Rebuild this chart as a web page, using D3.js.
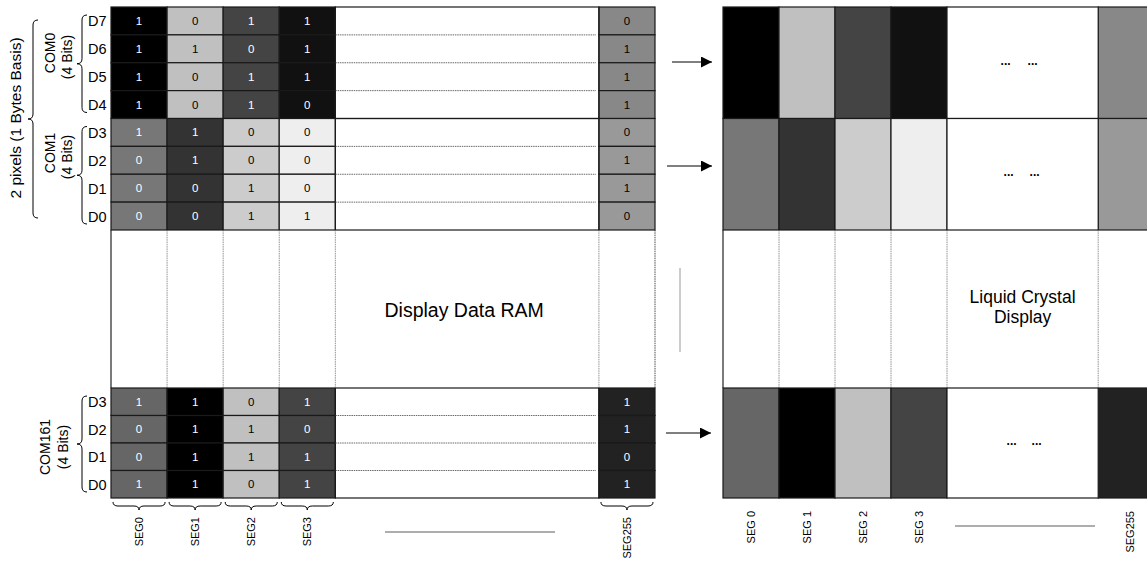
<!DOCTYPE html>
<html>
<head>
<meta charset="utf-8">
<script src="https://cdn.jsdelivr.net/npm/d3@7"></script>
<style>
  body { margin: 0; background: #fff; }
  svg { font-family: "Liberation Sans", Arial, sans-serif; }
</style>
</head>
<body>
<div class="figure"></div>
<script>
const segs = ["SEG0", "SEG1", "SEG2", "SEG3", "SEG255"]
const lcdSegs = ["SEG 0", "SEG 1", "SEG 2", "SEG 3", "SEG255"]
const coms = ["COM0", "COM1", "COM161"]
const bitNames = [["D7", "D6", "D5", "D4"], ["D3", "D2", "D1", "D0"], ["D3", "D2", "D1", "D0"]]
// bits[com][seg] from top row to bottom row
const bits = [
  [[1,1,1,1], [0,1,0,0], [1,0,1,1], [1,1,1,0], [0,1,1,1]],
  [[1,0,0,0], [1,1,0,0], [0,0,1,1], [0,0,0,1], [0,1,1,0]],
  [[1,0,0,1], [1,1,1,1], [0,1,1,0], [1,0,1,1], [1,1,0,1]]
]
// grey level of each pixel (com x seg)
const grays = [
  ["#000000", "#c0c0c0", "#444444", "#111111", "#888888"],
  ["#777777", "#333333", "#cccccc", "#eeeeee", "#999999"],
  ["#666666", "#000000", "#c0c0c0", "#444444", "#222222"]
]

const width = 1147, height = 566

const svg = d3.select(".figure").append("svg")
    .attr("width", width)
    .attr("height", height)

// column positions in "cell units": 4 seg columns, a wide gap, SEG255
const colStart = [0, 1, 2, 3, 8.7]
const ramX = d3.scaleLinear().domain([0, 9.7]).range([111, 655])
const lcdX = d3.scaleLinear().domain([0, 1]).range([723, 779])
const lcdCol = [0, 1, 2, 3, 6.7]   // lcd gap a bit narrower

// rows: COM0 + COM1 stacked on top, COM161 lower down
const topY = d3.scaleLinear().domain([0, 8]).range([7, 230])
const botY = d3.scaleLinear().domain([0, 4]).range([388, 498])
function rowY(c, r) { return c < 2 ? topY(c * 4 + r) : botY(r) }
function comTop(c) { return rowY(c, 0) }
function comBot(c) { return c < 2 ? topY(c * 4 + 4) : botY(4) }

function isDark(col) { return d3.hsl(col).l < 0.5 }

// ---------- brace helpers ----------
function vBrace(x, y1, y2, w) {
  const ym = (y1 + y2) / 2, r = 5
  return `M${x + w},${y1} Q${x},${y1} ${x},${y1 + r} L${x},${ym - r}
          Q${x},${ym} ${x - w},${ym} Q${x},${ym} ${x},${ym + r}
          L${x},${y2 - r} Q${x},${y2} ${x + w},${y2}`
}
function hBrace(x1, x2, y, h) {
  const xm = (x1 + x2) / 2, r = 5
  return `M${x1},${y - h} Q${x1},${y} ${x1 + r},${y} L${xm - r},${y}
          Q${xm},${y} ${xm},${y + h} Q${xm},${y} ${xm + r},${y}
          L${x2 - r},${y} Q${x2},${y} ${x2},${y - h}`
}

// ---------- RAM cells ----------
const ram = svg.append("g")

coms.forEach((com, c) => {
  segs.forEach((seg, s) => {
    const x0 = ramX(colStart[s]), x1 = ramX(colStart[s] + 1)
    bits[c][s].forEach((b, r) => {
      const y0 = rowY(c, r), y1 = rowY(c, r + 1)
      ram.append("rect")
          .attr("x", x0).attr("y", y0)
          .attr("width", x1 - x0).attr("height", y1 - y0)
          .attr("fill", grays[c][s])
          .attr("stroke", "#1a1a1a")
          .attr("stroke-width", 1.2)
      ram.append("text")
          .attr("x", (x0 + x1) / 2)
          .attr("y", (y0 + y1) / 2 + 4)
          .attr("text-anchor", "middle")
          .attr("font-size", 11.5)
          .attr("fill", isDark(grays[c][s]) ? "#fff" : "#000")
          .text(b)
    })
  })
  // the wide empty column with its dotted row lines
  const gx0 = ramX(4), gx1 = ramX(8.7)
  ram.append("rect")
      .attr("x", gx0).attr("y", comTop(c))
      .attr("width", gx1 - gx0).attr("height", comBot(c) - comTop(c))
      .attr("fill", "none").attr("stroke", "#1a1a1a").attr("stroke-width", 1.2)
  for (let r = 1; r < 4; r++) {
    ram.append("line")
        .attr("x1", gx0).attr("x2", gx1 - 3)
        .attr("y1", rowY(c, r)).attr("y2", rowY(c, r))
        .attr("stroke", "#444").attr("stroke-width", 0.8)
        .attr("stroke-dasharray", "1.5,0.8")
  }
  // bit names
  bitNames[c].forEach((d, r) => {
    ram.append("text")
        .attr("x", 88)
        .attr("y", (rowY(c, r) + rowY(c, r + 1)) / 2 + 5.5)
        .attr("font-size", 14.5)
        .text(d)
  })
})

// middle blank area of RAM: vertical guide lines
const midTop = comBot(1), midBot = comTop(2)
;[0, 1, 2, 3, 4, 8.7, 9.7].forEach(u => {
  ram.append("line")
      .attr("x1", ramX(u)).attr("x2", ramX(u))
      .attr("y1", midTop).attr("y2", midBot)
      .attr("stroke", u === 0 || u === 9.7 ? "#222" : "#777")
      .attr("stroke-width", u === 0 ? 1.2 : 0.8)
      .attr("stroke-dasharray", u === 0 ? null : "1.5,0.8")
})
ram.append("text")
    .attr("x", (ramX(4) + ramX(8.7)) / 2 - 3)
    .attr("y", 317)
    .attr("text-anchor", "middle")
    .attr("font-size", 19.5)
    .text("Display Data RAM")

// braces on the left
svg.append("path").attr("d", vBrace(33, 20, 218, 5))
    .attr("fill", "none").attr("stroke", "#000").attr("stroke-width", 1)
svg.append("text")
    .attr("transform", "translate(21,118) rotate(-90)")
    .attr("text-anchor", "middle").attr("font-size", 15.5)
    .text("2 pixels (1 Bytes Basis)")

// label baselines (x) and centres (y) for COM name and "(4 Bits)"
const comLabelX = [[55, 72], [55, 72], [50, 68]]
const comLabelY = [[53, 57], [153, 157], [447, 447]]
coms.forEach((com, c) => {
  const y0 = comTop(c) + 8, y1 = comBot(c) - 6
  svg.append("path").attr("d", vBrace(82, y0, y1, 5))
      .attr("fill", "none").attr("stroke", "#000").attr("stroke-width", 1)
  svg.append("text")
      .attr("transform", `translate(${comLabelX[c][0]},${comLabelY[c][0]}) rotate(-90)`)
      .attr("text-anchor", "middle").attr("font-size", 14)
      .text(com)
  svg.append("text")
      .attr("transform", `translate(${comLabelX[c][1]},${comLabelY[c][1]}) rotate(-90)`)
      .attr("text-anchor", "middle").attr("font-size", 14)
      .text("(4 Bits)")
})

// seg braces + labels under RAM
segs.forEach((seg, s) => {
  const x0 = ramX(colStart[s]) + 2, x1 = ramX(colStart[s] + 1) - 2
  svg.append("path").attr("d", hBrace(x0, x1, 506, 4))
      .attr("fill", "none").attr("stroke", "#000").attr("stroke-width", 1)
  svg.append("text")
      .attr("transform", `translate(${(x0 + x1) / 2 + 4},517) rotate(-90)`)
      .attr("text-anchor", "end").attr("font-size", 11)
      .text(seg)
})
svg.append("line")
    .attr("x1", 385).attr("x2", 555).attr("y1", 532).attr("y2", 532)
    .attr("stroke", "#333").attr("stroke-width", 0.8)

// vertical separator between the two halves
svg.append("line")
    .attr("x1", 680).attr("x2", 680).attr("y1", 268).attr("y2", 352)
    .attr("stroke", "#999").attr("stroke-width", 1)

// arrows
svg.append("defs").append("marker")
    .attr("id", "arrow")
    .attr("viewBox", "0 -5 10 10")
    .attr("refX", 10).attr("refY", 0)
    .attr("markerWidth", 11).attr("markerHeight", 11)
    .attr("markerUnits", "userSpaceOnUse")
    .attr("orient", "auto")
    .append("path").attr("d", "M0,-5L10,0L0,5Z").attr("fill", "#000")

const arrowY = [62, 166, 433]
const arrowX = [[672, 712], [667, 712], [666, 711]]
arrowY.forEach((y, i) => {
  svg.append("line")
      .attr("x1", arrowX[i][0]).attr("x2", arrowX[i][1])
      .attr("y1", y).attr("y2", y)
      .attr("stroke", "#000").attr("stroke-width", 1)
      .attr("marker-end", "url(#arrow)")
})

// ---------- LCD ----------
const lcd = svg.append("g")
coms.forEach((com, c) => {
  const y0 = comTop(c), y1 = comBot(c)
  lcdSegs.forEach((seg, s) => {
    const x0 = lcdX(lcdCol[s]), x1 = s === 4 ? width + 5 : lcdX(lcdCol[s] + 1)
    lcd.append("rect")
        .attr("x", x0).attr("y", y0)
        .attr("width", x1 - x0).attr("height", y1 - y0)
        .attr("fill", grays[c][s])
        .attr("stroke", "#1a1a1a").attr("stroke-width", 1.2)
  })
  const gx0 = lcdX(4), gx1 = lcdX(6.7), gm = (gx0 + gx1) / 2
  lcd.append("rect")
      .attr("x", gx0).attr("y", y0)
      .attr("width", gx1 - gx0).attr("height", y1 - y0)
      .attr("fill", "#fff").attr("stroke", "#1a1a1a").attr("stroke-width", 1.2)
  ;[-17 + c * 3, 10 + c * 2].forEach(dx => {
    lcd.append("text")
        .attr("x", gm + dx)
        .attr("y", (y0 + y1) / 2 + 2)
        .attr("text-anchor", "middle")
        .attr("font-size", 12).attr("font-weight", "bold")
        .text("...")
  })
})
;[0, 1, 2, 3, 4, 6.7].forEach(u => {
  lcd.append("line")
      .attr("x1", lcdX(u)).attr("x2", lcdX(u))
      .attr("y1", midTop).attr("y2", midBot)
      .attr("stroke", u === 0 ? "#222" : "#777")
      .attr("stroke-width", u === 0 ? 1.2 : 0.8)
      .attr("stroke-dasharray", u === 0 ? null : "1.5,0.8")
})
lcd.append("text")
    .attr("text-anchor", "middle").attr("font-size", 17.5)
    .selectAll("tspan")
    .data(["Liquid Crystal", "Display"])
    .join("tspan")
    .attr("x", (lcdX(4) + lcdX(6.7)) / 2)
    .attr("y", (d, i) => 303 + i * 20)
    .text(d => d)

lcdSegs.forEach((seg, s) => {
  const cx = s === 4 ? 1134 : (lcdX(lcdCol[s]) + lcdX(lcdCol[s] + 1)) / 2 + 4
  svg.append("text")
      .attr("transform", `translate(${cx},511) rotate(-90)`)
      .attr("text-anchor", "end").attr("font-size", 11)
      .text(seg)
})
svg.append("line")
    .attr("x1", 955).attr("x2", 1095).attr("y1", 526).attr("y2", 526)
    .attr("stroke", "#333").attr("stroke-width", 0.8)
</script>
</body>
</html>
